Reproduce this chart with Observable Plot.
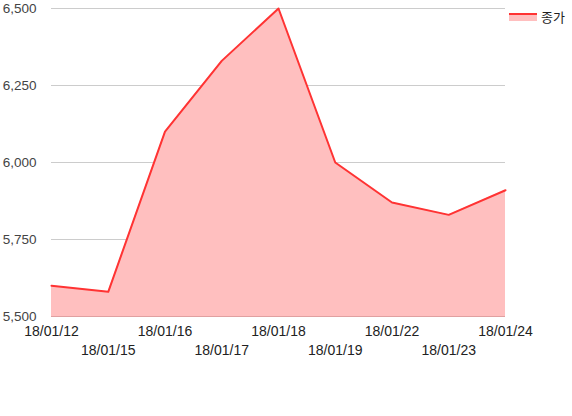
<!DOCTYPE html>
<html>
<head>
<meta charset="utf-8">
<script src="https://cdn.jsdelivr.net/npm/d3@7"></script>
<script src="https://cdn.jsdelivr.net/npm/@observablehq/plot@0.6"></script>
<style>
  body { margin: 0; background: #fff; font-family: "Liberation Sans", Arial, sans-serif; }
  #wrap { position: relative; width: 572px; height: 416px; }
  #legend { position: absolute; left: 509px; top: 7px; display: flex; align-items: center; font-size: 13px; color: #222; font-family: "Noto Sans CJK KR", sans-serif; }
  #legend .sw { width: 28px; height: 8px; position: relative; margin-right: 4px; background: #ffbfbf; border-top: 2px solid #ff3333; box-sizing: border-box; }
</style>
</head>
<body>
<div id="wrap">
  <div id="chart"></div>
  <div id="legend"><span class="sw"></span><span id="legendLabel"></span></div>
</div>
<script>
const dates = ["18/01/12","18/01/15","18/01/16","18/01/17","18/01/18","18/01/19","18/01/22","18/01/23","18/01/24"];
const closes = [5600, 5580, 6100, 6330, 6500, 6000, 5870, 5830, 5910];
const yTicks = [5500, 5750, 6000, 6250, 6500];
const seriesName = "종가";

const data = dates.map((d, i) => ({date: d, close: closes[i]}));
const fmt = d3.format(",");

const chart = Plot.plot({
  width: 572,
  height: 416,
  marginLeft: 51,
  marginRight: 67,
  marginTop: 8,
  marginBottom: 100,
  style: {fontFamily: "'Liberation Sans', Arial, sans-serif", fontSize: "13px", color: "#444", background: "#fff"},
  x: {type: "point", domain: dates, range: [51, 505], padding: 0, round: false},
  y: {domain: [5500, 6500], range: [316, 8]},
  marks: [
    Plot.ruleY(yTicks.slice(1), {stroke: "#ccc", strokeWidth: 1}),
    Plot.areaY(data, {x: "date", y1: 5500, y2: "close", fill: "#ffbfbf", fillOpacity: 1}),
    Plot.ruleY([5500], {stroke: "#e0a0a0", strokeWidth: 1}),
    Plot.lineY(data, {x: "date", y: "close", stroke: "#ff3333", strokeWidth: 2}),
    Plot.axisY(yTicks, {tickSize: 0, tickPadding: 15, tickFormat: fmt, fill: "#444", fontSize: 13.5, label: null}),
    Plot.axisX(dates.filter((d, i) => i % 2 === 0), {tickSize: 0, tickPadding: 10, fill: "#222", fontSize: 14, label: null}),
    Plot.axisX(dates.filter((d, i) => i % 2 === 1), {tickSize: 0, tickPadding: 29, fill: "#222", fontSize: 14, label: null})
  ]
});
document.getElementById("chart").appendChild(chart);
document.getElementById("legendLabel").textContent = seriesName;
</script>
</body>
</html>
